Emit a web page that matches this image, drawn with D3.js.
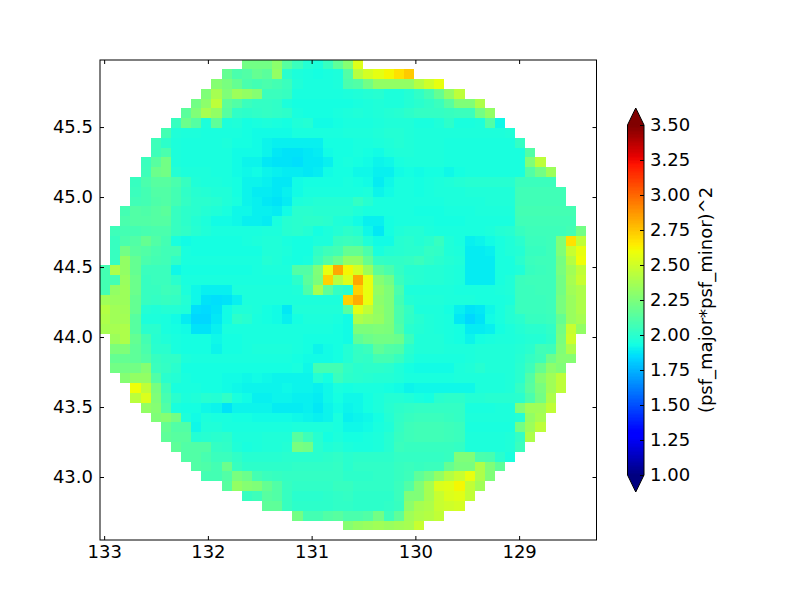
<!DOCTYPE html>
<html>
<head>
<meta charset="utf-8">
<script src="https://cdn.jsdelivr.net/npm/d3@7"></script>
<style>
	html, body { margin: 0; background: #fff; }
	svg { display: block; }
	text { font-family: "DejaVu Sans"; font-size: 18px; fill: #000; }
	.domain { display: none; }
	.tick line { stroke: #000; stroke-width: 1; }
</style>
</head>
<body>
<svg width="800" height="600"></svg>
<script>
// psf value x 100 per cell, top row first, west column first; holes are cells with no data
let psfRows = [
	[,,,,,,,,,,,,,,222,222,222,230,214,205,198,196,204,216,228,255],
	[,,,,,,,,,,,,218,210,212,218,215,232,200,196,195,194,195,196,212,243,252,257,262,268,274],
	[,,,,,,,,,,,228,224,218,210,208,210,208,205,197,195,195,195,196,210,212,222,232,232,232,232,242,250,258],
	[,,,,,,,,,,226,238,226,235,232,228,205,205,204,195,195,195,195,195,196,197,198,199,196,196,198,202,208,218,232,245],
	[,,,,,,,,,222,230,245,216,212,205,203,203,202,196,194,194,194,194,194,194,195,196,197,196,196,198,200,202,205,214,226,226,240],
	[,,,,,,,,215,226,238,232,214,202,201,202,203,202,201,195,194,194,194,195,196,197,196,197,198,199,201,203,203,203,204,205,205,222,232],
	[,,,,,,,204,220,213,196,216,196,197,194,195,196,195,194,197,198,193,193,194,195,195,195,196,197,197,197,195,195,197,201,195,195,196,212,192],
	[,,,,,,208,197,196,196,195,195,195,195,194,193,193,193,193,195,195,195,195,195,196,196,196,197,198,198,197,196,196,196,196,196,196,196,196,196,197],
	[,,,,,206,201,196,195,195,195,195,196,194,194,193,191,190,190,190,190,190,194,194,194,195,195,196,197,198,197,196,196,196,195,195,195,195,195,195,195,203],
	[,,,,,206,210,196,195,195,195,195,195,193,193,193,191,188,187,187,188,189,193,194,194,195,194,193,196,197,197,196,196,196,195,195,195,195,195,195,195,195,212],
	[,,,,205,214,222,196,195,195,195,195,195,193,191,191,188,187,187,186,188,188,190,194,195,194,193,191,192,195,196,196,196,196,195,195,195,195,195,195,195,195,226,245],
	[,,,,206,220,222,198,196,196,196,195,195,193,192,193,191,190,189,189,188,189,193,194,194,192,192,190,190,193,194,193,194,194,192,194,195,195,195,195,195,195,212,222,235],
	[,,,204,210,214,214,210,204,197,196,196,195,194,191,191,190,188,188,193,194,194,194,194,195,194,193,189,192,195,195,194,195,196,197,198,199,199,199,199,199,205,205,205,205],
	[,,,205,208,212,212,208,202,199,198,197,197,194,191,189,189,188,190,193,195,195,195,195,195,195,196,191,193,195,195,194,195,196,196,196,197,197,197,197,197,207,207,207,207,207],
	[,,,207,208,211,212,208,203,200,200,199,197,195,191,190,188,187,189,196,197,198,198,198,198,203,199,195,195,195,195,195,195,195,196,196,196,196,197,197,197,207,207,207,207,207],
	[,,208,212,211,213,215,204,201,200,198,197,195,192,192,190,190,189,193,200,200,199,199,199,199,197,195,195,195,195,195,194,194,194,195,195,195,196,196,196,196,208,208,208,208,208,208],
	[,,210,212,212,213,213,204,201,198,196,193,193,192,190,190,189,195,199,200,201,201,200,197,196,193,190,190,194,195,195,195,195,194,194,194,195,195,195,195,195,207,207,207,207,207,207],
	[,206,208,208,209,210,210,204,202,199,197,195,195,195,195,195,196,196,199,200,198,194,196,198,201,199,192,188,194,197,198,198,196,195,195,195,195,195,196,198,199,204,206,206,206,206,208,222],
	[,204,210,212,218,212,208,195,193,194,194,194,194,194,195,196,197,197,195,194,194,196,196,204,205,204,197,193,193,199,200,198,200,204,197,195,190,191,193,195,197,200,205,205,206,226,268,246],
	[,204,222,214,212,209,207,207,195,194,194,194,194,194,194,194,197,197,196,194,194,202,206,208,218,218,210,195,198,199,200,200,203,202,197,196,189,189,190,195,197,198,204,204,206,226,248,258],
	[,204,232,218,210,208,207,202,195,195,195,195,195,195,195,195,198,197,195,194,195,205,213,220,232,232,218,203,202,202,203,205,202,200,198,197,189,189,189,195,195,200,205,206,206,223,242,260],
	[208,240,232,218,205,205,205,192,194,194,194,194,194,194,194,195,196,196,196,212,212,226,258,283,262,252,235,215,210,203,199,199,198,198,197,196,189,189,189,195,195,197,204,205,206,224,236,246],
	[208,208,234,220,204,205,205,200,195,195,195,195,195,195,195,195,195,195,195,201,215,225,272,243,255,283,258,228,222,205,200,199,198,198,197,196,189,189,189,195,197,205,206,206,206,222,238,248],
	[208,232,235,220,204,204,206,205,196,192,190,190,190,196,196,196,196,196,196,197,211,238,216,203,200,272,258,232,226,210,196,196,196,196,196,195,195,195,195,196,197,205,205,206,206,222,236,240],
	[236,234,235,218,204,203,204,203,198,192,187,186,187,190,196,196,196,196,196,196,196,196,196,196,272,282,258,230,226,208,198,197,197,197,196,196,196,195,195,195,196,205,205,205,206,224,234,240],
	[242,236,236,218,198,197,198,198,197,186,185,187,193,197,197,196,194,193,188,197,197,197,197,197,214,256,246,232,226,210,203,196,196,196,194,190,187,188,192,195,198,205,205,205,206,224,234,240],
	[240,236,237,214,196,196,195,193,189,184,184,188,193,201,199,195,194,193,190,194,196,196,196,195,193,240,236,233,226,210,202,199,197,196,195,188,184,187,193,195,198,200,204,204,205,218,234,238],
	[238,238,240,214,200,200,195,194,193,187,187,190,195,195,195,195,195,195,195,195,195,195,195,194,193,225,225,226,225,212,200,198,197,196,195,194,189,189,190,194,196,198,200,200,202,222,248,232],
	[,235,240,218,208,199,197,195,194,194,194,192,194,194,195,195,195,195,195,195,194,194,194,194,193,216,220,222,222,220,205,197,197,197,195,194,191,194,195,196,196,197,198,198,201,224,250],
	[,225,226,216,210,200,200,195,194,194,194,191,194,194,195,196,196,196,196,195,194,191,193,194,198,203,205,216,212,211,200,197,197,197,196,196,196,197,197,197,197,198,200,207,206,226,240],
	[,218,218,216,212,204,202,202,196,195,195,195,195,195,195,195,195,195,195,194,193,193,193,194,198,203,202,208,208,204,198,195,195,195,195,195,196,197,197,197,197,199,203,206,220,228,228],
	[,222,222,222,228,205,203,200,194,194,194,194,194,194,194,194,194,194,194,195,192,208,208,208,202,200,201,201,200,197,194,193,193,193,193,196,197,199,197,197,197,200,206,218,230,226],
	[,,228,232,232,212,200,198,195,194,194,194,193,193,192,193,192,191,191,191,191,198,194,205,201,200,199,198,198,197,195,195,195,195,195,196,196,196,196,196,197,200,212,228,236,245],
	[,,,260,246,224,206,195,195,195,194,194,193,192,191,191,191,191,192,191,191,190,192,195,194,195,195,195,194,193,191,192,192,192,192,192,192,196,196,196,197,203,214,224,236,245],
	[,,,244,254,226,209,200,196,197,199,198,202,195,193,190,190,191,191,190,190,189,192,194,192,192,194,196,198,198,197,195,194,200,201,201,198,198,199,199,199,200,210,222,240],
	[,,,,232,228,212,195,194,194,192,191,187,191,191,191,191,189,189,189,190,188,191,193,191,192,194,196,199,201,202,203,203,203,203,203,195,195,195,196,196,226,236,236,246],
	[,,,,,226,228,222,196,193,196,195,195,194,194,193,193,193,193,192,191,190,191,195,190,191,192,194,198,202,204,205,205,205,204,203,196,196,196,196,196,198,232,238],
	[,,,,,,218,212,212,192,197,197,195,195,195,195,195,195,195,196,196,196,196,195,192,192,193,195,197,203,206,207,207,207,206,205,195,195,195,195,195,222,235,245],
	[,,,,,,216,214,214,198,199,200,201,196,196,196,197,197,197,214,206,199,194,196,194,194,195,196,199,204,206,207,207,207,206,205,196,196,196,196,197,203,240],
	[,,,,,,,216,212,212,212,203,202,197,195,196,197,197,198,224,222,200,197,198,196,195,195,196,199,205,204,204,204,204,204,203,196,196,196,196,197,205],
	[,,,,,,,,212,212,209,205,205,202,199,199,199,199,200,200,200,200,201,202,200,201,201,201,201,203,203,203,203,203,204,226,226,210,209,200,195],
	[,,,,,,,,,212,211,208,220,204,201,201,201,201,201,202,202,202,202,203,200,202,202,202,202,204,205,204,205,205,218,224,224,240,226,216],
	[,,,,,,,,,,208,208,212,224,220,208,205,204,203,203,203,203,203,203,201,201,201,202,202,204,206,216,222,232,242,248,258,240,226],
	[,,,,,,,,,,,,214,232,228,226,218,212,204,202,202,202,202,204,204,202,202,202,202,205,212,226,238,254,256,262,246,236],
	[,,,,,,,,,,,,,,204,206,214,212,204,200,200,200,201,202,203,201,201,201,201,205,226,226,238,248,254,256,246],
	[,,,,,,,,,,,,,,,,216,216,204,201,201,201,201,202,202,201,201,201,202,204,230,238,240,248,250,252],
	[,,,,,,,,,,,,,,,,,,,222,208,208,212,214,210,210,212,222,206,216,236,240,242,246],
	[,,,,,,,,,,,,,,,,,,,,,,,,228,232,234,236,234,236,238,248]
]

let lonTicks = [133, 132, 131, 130, 129]
let latTicks = [43.0, 43.5, 44.0, 44.5, 45.0, 45.5]
let cbarTicks = [1.00, 1.25, 1.50, 1.75, 2.00, 2.25, 2.50, 2.75, 3.00, 3.25, 3.50]
let cbarLabel = '(psf_major*psf_minor)^2'

// grid of the map in degrees
let lonWest = 133.04, lonStep = 0.0976
let latNorth = 45.984, latStep = 0.0701

// jet colormap breakpoints
let jetR = [[0, 0], [0.35, 0], [0.66, 1], [0.89, 1], [1, 0.5]]
let jetG = [[0, 0], [0.125, 0], [0.375, 1], [0.64, 1], [0.91, 0], [1, 0]]
let jetB = [[0, 0.5], [0.11, 1], [0.34, 1], [0.65, 0], [1, 0]]

let channel = pts => d3.scaleLinear().domain(pts.map(p => p[0])).range(pts.map(p => p[1])).clamp(true)
let scR = channel(jetR), scG = channel(jetG), scB = channel(jetB)
let scT = d3.scaleLinear().domain([1, 3.5]).range([0, 1])
let jet = v => {
	let t = scT(v)
	return d3.rgb(scR(t) * 255, scG(t) * 255, scB(t) * 255).formatRgb()
}

let svg = d3.select('svg')

let box = { left: 100, right: 596.5, top: 60, bottom: 540 }

let scX = d3.scaleLinear().domain([133.04, 128.254]).range([box.left, box.right])
let scY = d3.scaleLinear().domain([42.55, 45.979]).range([box.bottom, box.top])

svg.append('clipPath').attr('id', 'plot')
	.append('rect')
	.attr('x', box.left).attr('y', box.top)
	.attr('width', box.right - box.left).attr('height', box.bottom - box.top)

let cells = []
psfRows.forEach((row, r) => {
	row.forEach((v, c) => {
		cells.push({ r, c, v: v / 100 })
	})
})

svg.append('g')
	.attr('clip-path', 'url(#plot)')
	.attr('shape-rendering', 'crispEdges')
	.selectAll('rect')
	.data(cells).enter()
	.append('rect')
	.attr('x', d => scX(lonWest - d.c * lonStep))
	.attr('y', d => scY(latNorth - d.r * latStep))
	.attr('width', d => scX(lonWest - (d.c + 1) * lonStep) - scX(lonWest - d.c * lonStep))
	.attr('height', d => scY(latNorth - (d.r + 1) * latStep) - scY(latNorth - d.r * latStep))
	.attr('fill', d => jet(d.v))

// axes, ticks point inwards on all four sides
let tickLen = 4
let axes = svg.append('g')
axes.append('g').attr('transform', `translate(0,${box.bottom})`)
	.call(d3.axisBottom(scX).tickValues(lonTicks).tickFormat(d3.format('d')).tickSize(-tickLen).tickPadding(5))
axes.append('g').attr('transform', `translate(0,${box.top})`)
	.call(d3.axisTop(scX).tickValues(lonTicks).tickFormat('').tickSize(-tickLen))
axes.append('g').attr('transform', `translate(${box.left},0)`)
	.call(d3.axisLeft(scY).tickValues(latTicks).tickFormat(d3.format('.1f')).tickSize(-tickLen).tickPadding(7))
axes.append('g').attr('transform', `translate(${box.right},0)`)
	.call(d3.axisRight(scY).tickValues(latTicks).tickFormat('').tickSize(-tickLen))

svg.append('rect')
	.attr('x', box.left).attr('y', box.top)
	.attr('width', box.right - box.left).attr('height', box.bottom - box.top)
	.attr('fill', 'none').attr('stroke', '#000').attr('stroke-width', 1)

// colorbar
let cb = { left: 627.5, right: 644, top: 125, bottom: 475, tip: 17 }
let scCb = d3.scaleLinear().domain([1, 3.5]).range([cb.bottom, cb.top])
let levels = d3.range(256).map(i => 1 + i * 2.5 / 256)

let cbar = svg.append('g')

cbar.append('g')
	.attr('shape-rendering', 'crispEdges')
	.selectAll('rect')
	.data(levels).enter()
	.append('rect')
	.attr('x', cb.left)
	.attr('width', cb.right - cb.left)
	.attr('y', d => scCb(d + 2.5 / 256))
	.attr('height', d => scCb(d) - scCb(d + 2.5 / 256) + 0.6)
	.attr('fill', d => jet(d + 1.25 / 256))

let mid = (cb.left + cb.right) / 2
cbar.append('path')
	.attr('d', `M${cb.left} ${cb.top} L${mid} ${cb.top - cb.tip} L${cb.right} ${cb.top} Z`)
	.attr('fill', jet(3.5))
cbar.append('path')
	.attr('d', `M${cb.left} ${cb.bottom} L${mid} ${cb.bottom + cb.tip} L${cb.right} ${cb.bottom} Z`)
	.attr('fill', jet(1))
cbar.append('path')
	.attr('d', `M${cb.left} ${cb.top} L${mid} ${cb.top - cb.tip} L${cb.right} ${cb.top} L${cb.right} ${cb.bottom} L${mid} ${cb.bottom + cb.tip} L${cb.left} ${cb.bottom} Z`)
	.attr('fill', 'none').attr('stroke', '#000').attr('stroke-width', 1)

cbar.append('g').attr('transform', `translate(${cb.right},0)`)
	.call(d3.axisRight(scCb).tickValues(cbarTicks).tickFormat(d3.format('.2f')).tickSize(-tickLen).tickPadding(6))

svg.append('text')
	.attr('transform', `translate(712,${scCb(2.25)}) rotate(-90)`)
	.attr('text-anchor', 'middle')
	.text(cbarLabel)

svg.selectAll('.tick text').style('font-family', '"DejaVu Sans"').style('font-size', '18px')
</script>
</body>
</html>
